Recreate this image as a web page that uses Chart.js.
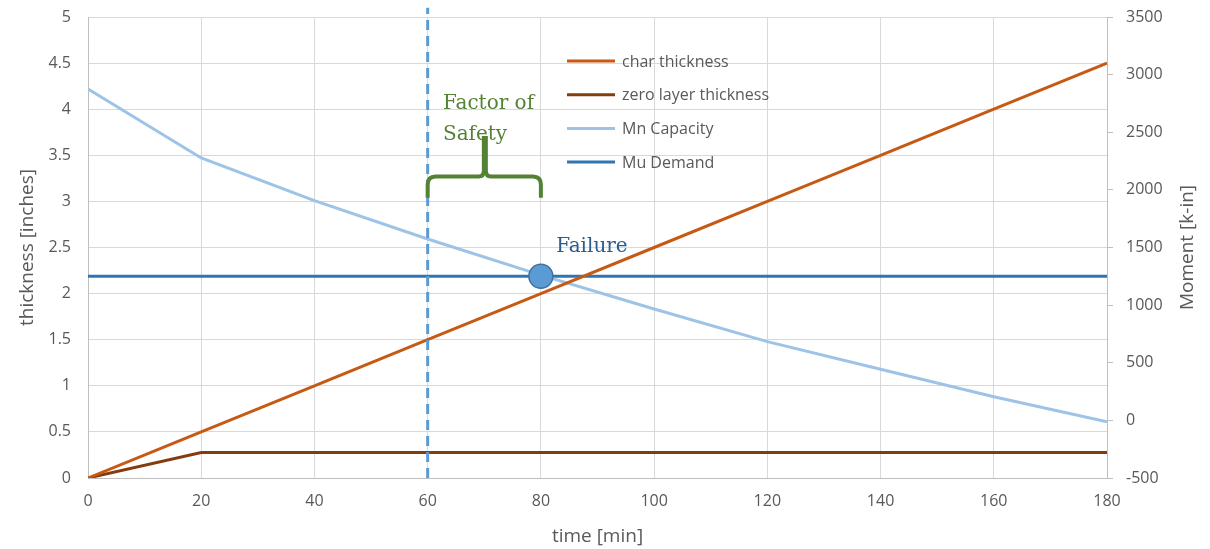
<!DOCTYPE html>
<html>
<head>
<meta charset="utf-8">
<script src="https://cdn.jsdelivr.net/npm/chart.js@4/dist/chart.umd.min.js"></script>
<style>
  html, body { margin: 0; padding: 0; background: #ffffff; }
  #wrap { width: 1210px; height: 549px; position: relative; }
</style>
</head>
<body>
<div id="wrap"><canvas id="c" width="1210" height="549"></canvas></div>
<script>
// Time steps of the fire exposure [min]
const timeMin = [0, 20, 40, 60, 80, 100, 120, 140, 160, 180];
// Left axis series [inches]
const charThickness = [0, 0.5, 1.0, 1.5, 2.0, 2.5, 3.0, 3.5, 4.0, 4.5];
const zeroLayerThickness = [0, 0.276, 0.276, 0.276, 0.276, 0.276, 0.276, 0.276, 0.276, 0.276];
// Right axis series [k-in]
const mnCapacity = [2875, 2277, 1906, 1574, 1260, 966, 683, 443, 205, -12];
const muDemand = [1250, 1250, 1250, 1250, 1250, 1250, 1250, 1250, 1250, 1250];
// Annotations
const safetyTime = 60;             // time of the vertical dashed marker [min]
const failurePoint = { x: 80, y: 1250 };
const seriesLabels = ['char thickness', 'zero layer thickness', 'Mn Capacity', 'Mu Demand'];
const seriesColors = ['#C65A15', '#843C0C', '#9DC3E6', '#2E75B6'];
const rightAxisTitle = 'Moment [k-in]';

const pts = (xs, ys) => xs.map((x, i) => ({ x: x, y: ys[i] }));
const plain = v => String(Math.round(v * 100) / 100);

const TICK_FONT = { family: "'Open Sans'", size: 16 };
const TITLE_FONT = { family: "'Open Sans'", size: 19 };
const GREY = '#595959';

// Vertical axes: fixed width, no extra label overhang above/below the plot
const fixVertical = w => s => { s.width = w; s.paddingTop = 0; s.paddingBottom = 0; };

// Legend drawn inside the plot area
const innerLegend = {
  id: 'innerLegend',
  afterDatasetsDraw(chart) {
    const ctx = chart.ctx;
    const items = chart.data.datasets.filter(d => d.inLegend);
    const x0 = 567, y0 = 61, step = 33.7;
    ctx.save();
    ctx.font = "16px 'Open Sans'";
    ctx.textBaseline = 'middle';
    items.forEach((d, i) => {
      const y = y0 + i * step;
      ctx.strokeStyle = d.borderColor;
      ctx.lineWidth = 3;
      ctx.beginPath();
      ctx.moveTo(x0, y);
      ctx.lineTo(x0 + 48, y);
      ctx.stroke();
      ctx.fillStyle = GREY;
      ctx.fillText(d.label, x0 + 55, y + 1);
    });
    ctx.restore();
  }
};

// Right axis title, reading bottom to top
const rightTitle = {
  id: 'rightTitle',
  afterDraw(chart) {
    const ctx = chart.ctx;
    const a = chart.chartArea;
    ctx.save();
    ctx.translate(1188, (a.top + a.bottom) / 2);
    ctx.rotate(-Math.PI / 2);
    ctx.font = "19px 'Open Sans'";
    ctx.fillStyle = GREY;
    ctx.textAlign = 'center';
    ctx.textBaseline = 'middle';
    ctx.fillText(rightAxisTitle, 0, 0);
    ctx.restore();
  }
};

// Brace and notes placed by data coordinates
const notes = {
  id: 'notes',
  afterDatasetsDraw(chart) {
    const ctx = chart.ctx;
    const xs = chart.scales.x, yl = chart.scales.y;
    const xa = xs.getPixelForValue(60), xb = xs.getPixelForValue(80);
    const xm = xs.getPixelForValue(70.1);
    const yBottom = yl.getPixelForValue(3.04);
    const yBar = yl.getPixelForValue(3.27);
    const yTip = yl.getPixelForValue(3.71);
    const r = 8;
    ctx.save();
    ctx.strokeStyle = '#548235';
    ctx.lineWidth = 4;
    ctx.lineJoin = 'round';
    ctx.beginPath();
    ctx.moveTo(xa, yBottom);
    ctx.lineTo(xa, yBar + r);
    ctx.quadraticCurveTo(xa, yBar, xa + r, yBar);
    ctx.lineTo(xm - 6, yBar);
    ctx.quadraticCurveTo(xm - 1, yBar, xm - 1, yBar - 6);
    ctx.lineTo(xm - 1, yTip);
    ctx.moveTo(xm + 1, yTip);
    ctx.lineTo(xm + 1, yBar - 6);
    ctx.quadraticCurveTo(xm + 1, yBar, xm + 6, yBar);
    ctx.lineTo(xb - r, yBar);
    ctx.quadraticCurveTo(xb, yBar, xb, yBar + r);
    ctx.lineTo(xb, yBottom);
    ctx.stroke();

    ctx.fillStyle = '#548235';
    ctx.font = "20px 'DejaVu Serif'";
    ctx.textBaseline = 'middle';
    ctx.textAlign = 'left';
    const tx = xs.getPixelForValue(62.7);
    ctx.fillText('Factor of', tx, yl.getPixelForValue(4.06));
    ctx.fillText('Safety', tx, yl.getPixelForValue(3.72));

    ctx.fillStyle = '#2B5C8F';
    ctx.fillText('Failure', xs.getPixelForValue(82.7), yl.getPixelForValue(2.51));
    ctx.restore();
  }
};

new Chart(document.getElementById('c'), {
  type: 'line',
  data: {
    datasets: [
      {
        label: 'failure',
        data: [failurePoint],
        yAxisID: 'y1',
        showLine: false,
        pointRadius: 12,
        pointHoverRadius: 12,
        pointBackgroundColor: '#5B9BD5',
        pointBorderColor: '#41719C',
        pointBorderWidth: 1.5,
        order: 0
      },
      {
        label: 'factor of safety',
        data: [{ x: safetyTime, y: 0 }, { x: safetyTime, y: 5.1 }],
        yAxisID: 'y',
        borderColor: '#5B9BD5',
        borderWidth: 3,
        borderDash: [10, 6],
        pointRadius: 0,
        clip: false,
        order: 1
      },
      {
        label: seriesLabels[0], inLegend: true,
        data: pts(timeMin, charThickness), yAxisID: 'y',
        borderColor: seriesColors[0], borderWidth: 3, pointRadius: 0, order: 2
      },
      {
        label: seriesLabels[1], inLegend: true,
        data: pts(timeMin, zeroLayerThickness), yAxisID: 'y',
        borderColor: seriesColors[1], borderWidth: 3, pointRadius: 0, order: 3
      },
      {
        label: seriesLabels[2], inLegend: true,
        data: pts(timeMin, mnCapacity), yAxisID: 'y1',
        borderColor: seriesColors[2], borderWidth: 3, pointRadius: 0, order: 4
      },
      {
        label: seriesLabels[3], inLegend: true,
        data: pts(timeMin, muDemand), yAxisID: 'y1',
        borderColor: seriesColors[3], borderWidth: 3, pointRadius: 0, order: 5
      }
    ]
  },
  options: {
    responsive: false,
    animation: false,
    events: [],
    layout: { padding: { top: 17, left: 0, right: 0, bottom: 0 } },
    plugins: { legend: { display: false }, tooltip: { enabled: false } },
    scales: {
      x: {
        type: 'linear',
        min: 0, max: 180,
        afterFit(s) { s.height = 71; },
        ticks: { stepSize: 20, color: GREY, font: TICK_FONT, padding: 14, maxRotation: 0, callback: plain },
        grid: { color: '#D9D9D9', lineWidth: 1, drawTicks: false },
        border: { color: '#BFBFBF', width: 1 },
        title: { display: true, text: 'time [min]', color: GREY, font: TITLE_FONT, padding: { top: 4, bottom: 1 } }
      },
      y: {
        position: 'left',
        min: 0, max: 5,
        afterFit: fixVertical(88),
        ticks: { stepSize: 0.5, color: GREY, font: TICK_FONT, padding: 17, callback: plain },
        grid: { color: '#D9D9D9', lineWidth: 1, drawTicks: false },
        border: { color: '#BFBFBF', width: 1 },
        title: { display: true, text: 'thickness [inches]', color: GREY, font: TITLE_FONT, padding: { top: 16, bottom: 4 } }
      },
      y1: {
        position: 'right',
        min: -500, max: 3500,
        afterFit: fixVertical(103),
        ticks: { stepSize: 500, color: GREY, font: TICK_FONT, padding: 13, callback: plain },
        grid: { drawOnChartArea: false, drawTicks: true, tickLength: 6, color: '#BFBFBF' },
        border: { color: '#BFBFBF', width: 1 },
        title: { display: false }
      }
    }
  },
  plugins: [innerLegend, notes, rightTitle]
});
</script>
</body>
</html>
